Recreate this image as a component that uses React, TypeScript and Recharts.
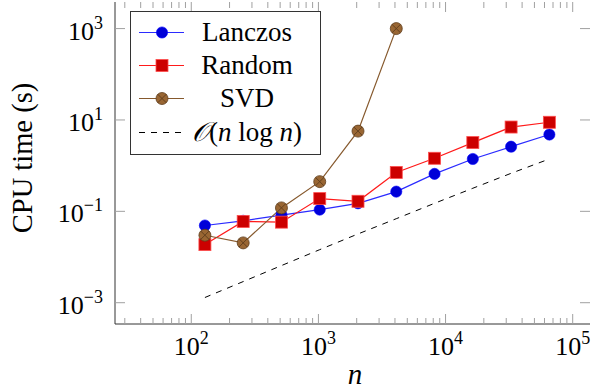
import React from 'react';
import { LineChart, Line, XAxis, YAxis } from 'recharts';

// problem sizes n = 2^7 .. 2^16
const nValues = [128, 256, 512, 1024, 2048, 4096, 8192, 16384, 32768, 65536];
// CPU time (s)
const lanczosTimes = [0.049, 0.062, 0.083, 0.109, 0.15, 0.27, 0.66, 1.4, 2.6, 4.8];
const randomTimes = [0.0187, 0.06, 0.058, 0.19, 0.166, 0.71, 1.45, 3.2, 7.0, 8.9];
const svdTimes = [0.03, 0.0204, 0.119, 0.447, 5.7, 1000];
const nlognRef = [0.0013, 0.0029, 0.0065, 0.0145, 0.032, 0.069, 0.15, 0.32, 0.68, 1.4];

const xMajorTicks = [100, 1000, 10000, 100000];
const xMinorTicks = [
    30, 40, 50, 60, 70, 80, 90,
    200, 300, 400, 500, 600, 700, 800, 900,
    2000, 3000, 4000, 5000, 6000, 7000, 8000, 9000,
    20000, 30000, 40000, 50000, 60000, 70000, 80000, 90000,
];
const yTicks = [0.001, 0.1, 10, 1000];

const data = nValues.map((n, i) => ({
    n,
    lanczos: lanczosTimes[i],
    random: randomTimes[i],
    svd: svdTimes[i],
    ref: nlognRef[i],
}));

const FONT = '"Liberation Serif", "Times New Roman", serif';
const TICK_COLOR = '#a0a0a0';
const FRAME_COLOR = '#333';
const PLOT = { left: 115, right: 590, top: 2, bottom: 324 };

const BLUE_LINE = '#2b2bff';
const BLUE_FILL = '#0000d8';
const RED_LINE = '#ff1a1a';
const RED_FILL = '#cc0000';
const BROWN_LINE = '#86592d';
const BROWN_FILL = '#996633';
const BROWN_EDGE = '#5e3c1c';

const CircleMark = ({ cx, cy }: any) => (
    <circle cx={cx} cy={cy} r={5.6} fill={BLUE_FILL} stroke="#0000ff" strokeWidth={0.6} />
);
const SquareMark = ({ cx, cy }: any) => (
    <rect x={cx - 6} y={cy - 6} width={12} height={12} fill={RED_FILL} stroke="#ff4d4d" strokeWidth={0.8} />
);
const OTimesMark = ({ cx, cy }: any) => {
    const d = 4.2;
    return (
        <g>
            <circle cx={cx} cy={cy} r={6} fill={BROWN_FILL} stroke={BROWN_EDGE} strokeWidth={0.8} />
            <line x1={cx - d} y1={cy - d} x2={cx + d} y2={cy + d} stroke={BROWN_EDGE} strokeWidth={0.9} />
            <line x1={cx - d} y1={cy + d} x2={cx + d} y2={cy - d} stroke={BROWN_EDGE} strokeWidth={0.9} />
        </g>
    );
};

const dotOf = (Mark: any) => (props: any) => {
    const { cx, cy, index } = props;
    if (cx == null || cy == null || Number.isNaN(cy)) return <g key={`d-${index}`} />;
    return <Mark key={`d-${index}`} cx={cx} cy={cy} />;
};

const XTick = (props: any) => {
    const { x, payload } = props;
    const v = payload.value;
    const major = xMajorTicks.includes(v);
    const len = major ? 10 : 6;
    return (
        <g>
            <line x1={x} x2={x} y1={PLOT.bottom} y2={PLOT.bottom - len} stroke={TICK_COLOR} />
            <line x1={x} x2={x} y1={PLOT.top} y2={PLOT.top + len} stroke={TICK_COLOR} />
            {major && (
                <text x={x} y={PLOT.bottom + 31} textAnchor="middle" fontFamily={FONT} fontSize={26} fill="#000">
                    10<tspan dy={-11} fontSize={18}>{Math.round(Math.log10(v))}</tspan>
                </text>
            )}
        </g>
    );
};

const YTick = (props: any) => {
    const { y, payload } = props;
    const e = Math.round(Math.log10(payload.value));
    const exp = e < 0 ? `\u2212${-e}` : `${e}`;
    return (
        <g>
            <line x1={PLOT.left} x2={PLOT.left + 10} y1={y} y2={y} stroke={TICK_COLOR} />
            <line x1={PLOT.right} x2={PLOT.right - 10} y1={y} y2={y} stroke={TICK_COLOR} />
            <text x={103} y={y + 11} textAnchor="end" fontFamily={FONT} fontSize={26} fill="#000">
                10<tspan dy={-11} fontSize={18}>{exp}</tspan>
            </text>
        </g>
    );
};

const legendRows = [
    { name: 'Lanczos', color: BLUE_LINE, Mark: CircleMark },
    { name: 'Random', color: RED_LINE, Mark: SquareMark },
    { name: 'SVD', color: BROWN_LINE, Mark: OTimesMark },
];

const LegendBox = () => (
    <svg
        width={192}
        height={145}
        style={{ position: 'absolute', left: 130, top: 11, overflow: 'visible' }}
    >
        <rect x={0.5} y={0.5} width={190} height={143} fill="#fff" stroke={FRAME_COLOR} strokeWidth={1} />
        {legendRows.map((r, i) => {
            const cy = 21.5 + i * 33;
            return (
                <g key={r.name}>
                    <line x1={9} x2={54} y1={cy} y2={cy} stroke={r.color} strokeWidth={1.2} />
                    <r.Mark cx={32} cy={cy} />
                    <text x={117} y={cy + 8} textAnchor="middle" fontFamily={FONT} fontSize={27} fill="#000">
                        {r.name}
                    </text>
                </g>
            );
        })}
        <line x1={9} x2={54} y1={121.5} y2={121.5} stroke="#000" strokeDasharray="6 6" />
        <text x={117} y={129.5} textAnchor="middle" fontFamily={FONT} fontSize={27} fill="#000">
            <tspan fontStyle="italic">𝒪</tspan>(<tspan fontStyle="italic">n</tspan> log <tspan fontStyle="italic">n</tspan>)
        </text>
    </svg>
);

export default function App() {
    return (
        <div style={{ position: 'absolute', left: 0, top: 0, width: 591, height: 391, background: '#fff' }}>
            <LineChart width={591} height={391} data={data} margin={{ top: 2, right: 1, bottom: 0, left: 0 }}>
                <XAxis
                    xAxisId="x"
                    dataKey="n"
                    type="number"
                    scale="log"
                    domain={[25.12, 136800]}
                    allowDataOverflow
                    ticks={[...xMinorTicks, ...xMajorTicks].sort((a, b) => a - b)}
                    interval={0}
                    tick={<XTick />}
                    tickLine={false}
                    axisLine={{ stroke: FRAME_COLOR }}
                    height={67}
                    label={{
                        content: () => (
                            <text x={355} y={384} textAnchor="middle" fontFamily={FONT} fontSize={29} fontStyle="italic">
                                n
                            </text>
                        ),
                    }}
                />
                <XAxis
                    xAxisId="top"
                    orientation="top"
                    dataKey="n"
                    type="number"
                    scale="log"
                    domain={[25.12, 136800]}
                    allowDataOverflow
                    height={0}
                    tick={false}
                    tickLine={false}
                    axisLine={{ stroke: FRAME_COLOR }}
                />
                <YAxis
                    yAxisId="y"
                    type="number"
                    scale="log"
                    domain={[3.42e-4, 3820]}
                    allowDataOverflow
                    ticks={yTicks}
                    interval={0}
                    tick={<YTick />}
                    tickLine={false}
                    axisLine={{ stroke: FRAME_COLOR }}
                    width={115}
                    label={{
                        content: () => (
                            <text
                                x={22}
                                y={158}
                                transform="rotate(-90 22 158)"
                                textAnchor="middle"
                                dominantBaseline="central"
                                fontFamily={FONT}
                                fontSize={28.5}
                            >
                                CPU time (s)
                            </text>
                        ),
                    }}
                />
                <YAxis
                    yAxisId="right"
                    orientation="right"
                    type="number"
                    scale="log"
                    domain={[3.42e-4, 3820]}
                    allowDataOverflow
                    width={0}
                    tick={false}
                    tickLine={false}
                    axisLine={{ stroke: FRAME_COLOR }}
                />
                <Line
                    xAxisId="x"
                    yAxisId="y"
                    dataKey="ref"
                    stroke="#000"
                    strokeWidth={1}
                    strokeDasharray="6 6"
                    dot={false}
                    isAnimationActive={false}
                />
                <Line
                    xAxisId="x"
                    yAxisId="y"
                    dataKey="lanczos"
                    stroke={BLUE_LINE}
                    strokeWidth={1.2}
                    dot={dotOf(CircleMark)}
                    isAnimationActive={false}
                />
                <Line
                    xAxisId="x"
                    yAxisId="y"
                    dataKey="random"
                    stroke={RED_LINE}
                    strokeWidth={1.2}
                    dot={dotOf(SquareMark)}
                    isAnimationActive={false}
                />
                <Line
                    xAxisId="x"
                    yAxisId="y"
                    dataKey="svd"
                    stroke={BROWN_LINE}
                    strokeWidth={1.2}
                    dot={dotOf(OTimesMark)}
                    isAnimationActive={false}
                />
            </LineChart>
            <LegendBox />
        </div>
    );
}
